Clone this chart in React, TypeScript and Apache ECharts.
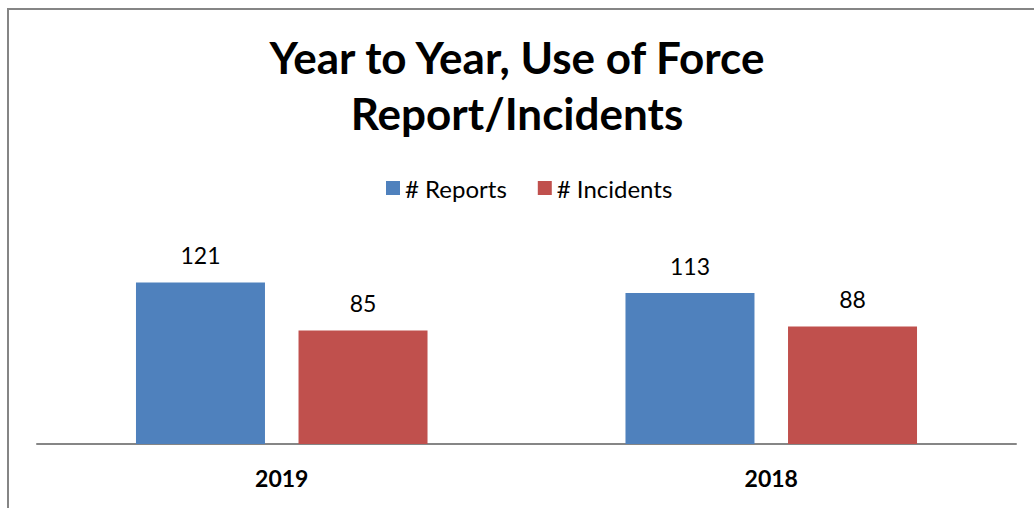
import React, { useEffect, useRef } from "react";
import * as echarts from "echarts";

const categories = ["2019", "2018"];
const reports = [121, 113];
const incidents = [85, 88];
const seriesNames = ["# Reports", "# Incidents"];
const titleText = "Year to Year, Use of Force\nReport/Incidents";

export default function App() {
  const ref = useRef<HTMLDivElement>(null);
  useEffect(() => {
    if (!ref.current) return;
    const chart = echarts.init(ref.current, null, { renderer: "svg" });
    const font = "Lato, 'Noto Sans', sans-serif";
    chart.setOption({
      animation: false,
      backgroundColor: "#ffffff",
      title: {
        text: titleText,
        left: "center",
        top: 29,
        padding: 0,
        textStyle: {
          fontFamily: font,
          fontWeight: "bold",
          fontSize: 44,
          lineHeight: 56,
          color: "#000000",
        },
      },
      legend: {
        top: 171,
        left: 381,
        itemWidth: 14,
        itemHeight: 14,
        itemGap: 31,
        icon: "rect",
        textStyle: { fontFamily: font, fontSize: 24, color: "#000000" },
        data: seriesNames,
      },
      graphic: [
        {
          type: "rect",
          shape: { x: 8, y: 9, width: 1200, height: 700 },
          style: { fill: "none", stroke: "#858585", lineWidth: 2 },
          silent: true,
          z: 100,
        },
      ],
      grid: { left: 37, right: 18, top: 257, bottom: 64 },
      xAxis: {
        type: "category",
        data: categories,
        axisTick: { show: false },
        axisLine: { lineStyle: { color: "#868686", width: 2 } },
        axisLabel: {
          margin: 22,
          fontFamily: font,
          fontWeight: "bold",
          fontSize: 23,
          color: "#000000",
        },
      },
      yAxis: {
        type: "value",
        min: 0,
        max: 140,
        show: false,
        splitLine: { show: false },
      },
      series: [
        {
          name: seriesNames[0],
          type: "bar",
          data: reports,
          barWidth: 129,
          barGap: "26%",
          itemStyle: { color: "#4F81BD" },
          label: {
            show: true,
            position: "top",
            distance: 16,
            fontFamily: font,
            fontSize: 23,
            color: "#000000",
          },
        },
        {
          name: seriesNames[1],
          type: "bar",
          data: incidents,
          barWidth: 129,
          barGap: "26%",
          itemStyle: { color: "#C0504D" },
          label: {
            show: true,
            position: "top",
            distance: 16,
            fontFamily: font,
            fontSize: 23,
            color: "#000000",
          },
        },
      ],
    });
    return () => chart.dispose();
  }, []);
  return (
    <div
      ref={ref}
      style={{ position: "fixed", left: 0, top: 0, width: 1034, height: 508 }}
    />
  );
}
